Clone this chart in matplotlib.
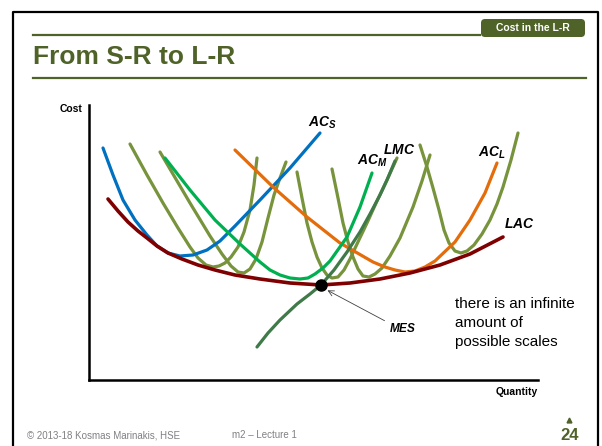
import matplotlib.pyplot as plt
from matplotlib.patches import FancyBboxPatch
import numpy as np

plt.rcParams['font.family'] = ['Liberation Sans', 'DejaVu Sans']
plt.rcParams['mathtext.fontset'] = 'custom'
plt.rcParams['mathtext.bfit'] = 'Liberation Sans:italic:bold'

# curves (quantity, cost) in arbitrary units
acs_q = [14, 24, 34, 46, 58, 68, 79, 91, 104, 118, 131, 146, 171, 201, 231]
acs_c = [232, 205, 180, 160, 145, 134, 127, 124, 125, 130, 139, 154, 180, 212, 247]

lac_q = [19, 29, 39, 49, 58, 68, 79, 93, 109, 126, 146, 171, 201, 232, 261, 291, 321, 351, 381, 414]
lac_c = [181, 169, 158, 149, 142, 134, 127, 121, 115, 110, 105, 101, 97, 95, 97, 101, 107, 115, 126, 143]

acm_q = [76, 101, 126, 151, 171, 181, 191, 201, 211, 219, 226, 234, 241, 258, 271, 283]
acm_c = [222, 190, 160, 136, 118, 110, 105, 102, 101, 102, 106, 112, 119, 143, 173, 207]

acl_q = [146, 184, 218, 251, 284, 296, 306, 316, 326, 336, 346, 366, 381, 396, 408]
acl_c = [230, 193, 163, 137, 118, 113, 110, 108, 109, 113, 119, 138, 160, 187, 217]

lmc_q = [168, 179, 191, 208, 221, 232, 245, 258, 271, 281, 291, 298, 306]
lmc_c = [33, 47, 60, 76, 86, 95, 110, 128, 148, 166, 185, 200, 219]

# other short-run AC curves (olive)
sr_curves = [
    ([41, 58, 74, 89, 101, 109, 117, 124, 130, 136, 142, 149, 155, 161, 165, 168],
     [236, 205, 177, 152, 133, 122, 115, 113, 114, 117, 123, 133, 148, 170, 195, 222]),
    ([71, 101, 121, 133, 142, 149, 155, 161, 167, 173, 179, 185, 191, 197],
     [228, 177, 144, 126, 114, 108, 107, 111, 121, 138, 162, 185, 202, 218]),
    ([208, 213, 218, 223, 228, 233, 238, 243, 249, 255, 261, 268, 278, 288, 298, 308],
     [208, 182, 157, 138, 123, 112, 105, 102, 103, 110, 121, 136, 157, 179, 200, 222]),
    ([243, 249, 254, 259, 264, 269, 274, 280, 286, 293, 301, 311, 324, 333, 341],
     [211, 182, 157, 138, 123, 111, 104, 103, 106, 112, 124, 142, 173, 199, 225]),
    ([331, 338, 344, 350, 355, 360, 366, 372, 378, 385, 393, 401, 408, 414, 422, 429],
     [235, 213, 192, 170, 150, 137, 129, 127, 129, 135, 146, 160, 176, 193, 220, 247]),
]

olive = '#77933C'
title_col = '#4F6228'

fig = plt.figure(figsize=(6.02, 4.46), dpi=100)

# slide decoration in pixel coordinates
bg = fig.add_axes([0, 0, 1, 1])
bg.set_xlim(0, 602)
bg.set_ylim(446, 0)
bg.axis('off')

bg.plot([13, 13, 598, 598], [446, 12, 12, 446], color='black', lw=1.6)
bg.plot([33, 480], [35, 35], color=title_col, lw=1.6)
bg.plot([33, 586], [78, 78], color=title_col, lw=1.6)
tab = FancyBboxPatch((481, 19), 104, 18, boxstyle='round,pad=0,rounding_size=4',
                     fc=title_col, ec='none')
bg.add_patch(tab)
bg.text(533, 28, 'Cost in the L-R', color='white', fontsize=7.5, fontweight='bold',
        ha='center', va='center')
bg.text(33, 57, 'From S-R to L-R', color=title_col, fontsize=19, fontweight='bold',
        ha='left', va='center')

bg.text(27, 435, '\u00a9 2013-18 Kosmas Marinakis, HSE', color='#808080', fontsize=7,
        ha='left', va='center')
bg.text(232, 435, 'm2 \u2013 Lecture 1', color='#808080', fontsize=7, ha='left', va='center')
bg.text(579, 435, '24', color=title_col, fontsize=12, fontweight='bold',
        ha='right', va='center')
bg.plot([569], [420], marker='^', color=title_col, ms=3.5)

bg.text(83, 109, 'Cost', fontsize=7.5, fontweight='bold', ha='right', va='center')
bg.text(538, 392, 'Quantity', fontsize=7.5, fontweight='bold', ha='right', va='center')
bg.text(455, 297, 'there is an infinite\namount of\npossible scales', fontsize=11,
        ha='left', va='top', linespacing=1.45)

lab = dict(fontsize=10, ha='left', va='center')
bg.text(308, 123, r'$\mathbfit{AC}_{\mathbfit{S}}$', **lab)
bg.text(357, 161, r'$\mathbfit{AC}_{\mathbfit{M}}$', **lab)
bg.text(383, 150, r'$\mathbfit{LMC}$', **lab)
bg.text(478, 153, r'$\mathbfit{AC}_{\mathbfit{L}}$', **lab)
bg.text(504, 224, r'$\mathbfit{LAC}$', **lab)

# the chart itself
ax = fig.add_axes([89 / 602, 66 / 446, 449 / 602, 275 / 446])
ax.set_xlim(0, 449)
ax.set_ylim(0, 275)
ax.patch.set_alpha(0)
for s in ['top', 'right']:
    ax.spines[s].set_visible(False)
for s in ['left', 'bottom']:
    ax.spines[s].set_linewidth(1.8)
ax.set_xticks([])
ax.set_yticks([])

kw = dict(lw=2.3, solid_capstyle='round', solid_joinstyle='round', clip_on=False)
for q, c in sr_curves:
    ax.plot(q, c, color=olive, **kw)
ax.plot(acs_q, acs_c, color='#0070C0', **kw)
ax.plot(acl_q, acl_c, color='#E46C0A', **kw)
ax.plot(acm_q, acm_c, color='#00B050', **kw)
ax.plot(lmc_q, lmc_c, color='#3F7A48', **kw)
ax.plot(lac_q, lac_c, color='#7F0000', lw=2.6, solid_capstyle='round',
        solid_joinstyle='round', clip_on=False)

# minimum efficient scale = minimum of LAC
i = int(np.argmin(lac_c))
ax.plot(lac_q[i], lac_c[i], 'o', color='black', ms=8, zorder=5)
ax.annotate('', xy=(lac_q[i] + 4, lac_c[i] - 4), xytext=(298, 58),
            arrowprops=dict(arrowstyle='->', color='#404040', lw=0.6))
ax.text(300, 52, r'$\mathbfit{MES}$', fontsize=8.5, ha='left', va='center')

fig.savefig('out.png', dpi=100)
